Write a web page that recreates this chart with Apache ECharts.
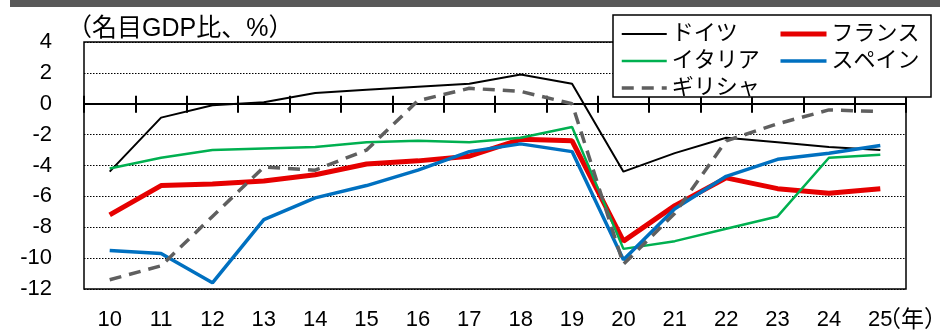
<!DOCTYPE html>
<html>
<head>
<meta charset="utf-8">
<script src="https://cdn.jsdelivr.net/npm/echarts@6/dist/echarts.min.js"></script>
<style>
  html, body { margin: 0; padding: 0; background: #fff; }
  #chart { width: 944px; height: 334px; }
</style>
</head>
<body>
<div id="chart"></div>
<script>
// Fiscal balance (% of nominal GDP), 2010-2025
const years = ['10','11','12','13','14','15','16','17','18','19','20','21','22','23','24','25'];
const germany = [-4.4, -0.9, -0.1, 0.1, 0.7, 0.9, 1.1, 1.3, 1.9, 1.3, -4.4, -3.2, -2.2, -2.5, -2.8, -3.0];
const france  = [-7.2, -5.3, -5.2, -5.0, -4.6, -3.9, -3.7, -3.4, -2.3, -2.4, -8.9, -6.6, -4.8, -5.5, -5.8, -5.5];
const italy   = [-4.2, -3.5, -3.0, -2.9, -2.8, -2.5, -2.4, -2.5, -2.2, -1.5, -9.4, -8.9, -8.1, -7.3, -3.5, -3.3];
const spain   = [-9.5, -9.7, -11.6, -7.5, -6.1, -5.3, -4.3, -3.1, -2.6, -3.1, -10.1, -6.8, -4.7, -3.6, -3.2, -2.7];
const greece  = [-11.4, -10.5, -7.3, -4.1, -4.3, -3.0, 0.2, 1.0, 0.8, 0.0, -10.4, -7.1, -2.4, -1.3, -0.4, -0.5];

const FONT = '"Liberation Sans", "Noto Sans CJK JP", sans-serif';

const seriesDefs = [
  { name: 'ドイツ',   data: germany, color: '#000000', width: 2 },
  { name: 'フランス', data: france,  color: '#e60000', width: 5 },
  { name: 'イタリア', data: italy,   color: '#00b050', width: 2.5 },
  { name: 'スペイン', data: spain,   color: '#0070c0', width: 3.5 },
  { name: 'ギリシャ', data: greece,  color: '#5f5f5f', width: 3.5, type: [12, 8] }
];

// legend entries show only the line sample, no marker
const legendItem = (d) => ({
  name: d.name,
  lineStyle: { color: d.color, width: d.width, type: d.type || 'solid' },
  itemStyle: { color: 'rgba(0,0,0,0)', borderColor: 'rgba(0,0,0,0)', borderWidth: 0 }
});

const chart = echarts.init(document.getElementById('chart'), null, { renderer: 'canvas' });

const catAxisBase = {
  type: 'category',
  data: years,
  gridIndex: 0,
  boundaryGap: true,
  splitLine: { show: false }
};

const valAxisBase = {
  type: 'value',
  gridIndex: 0,
  min: -12, max: 4, interval: 2,
  axisLine: { show: false },
  axisTick: { show: false }
};

chart.setOption({
  animation: false,
  backgroundColor: '#ffffff',
  grid: {
    left: 84, right: 38, top: 42, bottom: 45,
    show: true, borderColor: '#000', borderWidth: 1.5, backgroundColor: 'transparent'
  },
  xAxis: [
    // category labels along the bottom edge
    Object.assign({}, catAxisBase, {
      position: 'bottom',
      axisLine: { show: false, onZero: false },
      axisTick: { show: false },
      axisLabel: { show: true, color: '#000', fontSize: 22, fontFamily: FONT, margin: 20 }
    }),
    // zero line, ticks pointing up
    Object.assign({}, catAxisBase, {
      position: 'bottom',
      axisLine: { show: true, onZero: true, onZeroAxisIndex: 0, lineStyle: { color: '#000', width: 2 } },
      axisTick: { show: true, inside: true, length: 8, lineStyle: { color: '#000', width: 2 } },
      axisLabel: { show: false }
    }),
    // zero line, ticks pointing down
    Object.assign({}, catAxisBase, {
      position: 'top',
      axisLine: { show: true, onZero: true, onZeroAxisIndex: 1, lineStyle: { color: '#000', width: 2 } },
      axisTick: { show: true, inside: true, length: 9, lineStyle: { color: '#000', width: 2 } },
      axisLabel: { show: false }
    })
  ],
  yAxis: [
    Object.assign({}, valAxisBase, {
      position: 'left',
      axisLabel: { color: '#000', fontSize: 22, fontFamily: FONT, margin: 32 },
      splitLine: { show: true, lineStyle: { color: '#000', width: 1, type: [1.5, 1.5] } }
    }),
    Object.assign({}, valAxisBase, {
      position: 'right',
      axisLabel: { show: false },
      splitLine: { show: false }
    })
  ],
  legend: [
    {
      orient: 'vertical', left: 620, top: 22, padding: 0, z: 20,
      itemWidth: 45, itemHeight: 14, itemGap: 3,
      textStyle: { color: '#000', fontSize: 22, fontFamily: FONT, lineHeight: 24 },
      data: [seriesDefs[0], seriesDefs[2], seriesDefs[4]].map(legendItem)
    },
    {
      orient: 'vertical', left: 778, top: 22, padding: 0, z: 20,
      itemWidth: 46, itemHeight: 14, itemGap: 3,
      textStyle: { color: '#000', fontSize: 22, fontFamily: FONT, lineHeight: 24 },
      data: [seriesDefs[1], seriesDefs[3]].map(legendItem)
    }
  ],
  graphic: [
    { type: 'rect', z: 0, silent: true, shape: { x: 10, y: 0, width: 930, height: 7 }, style: { fill: '#595959' } },
    { type: 'rect', z: 10, silent: true, shape: { x: 613, y: 15, width: 318, height: 82 },
      style: { fill: '#ffffff', stroke: '#000', lineWidth: 1.5 } },
    { type: 'text', z: 10, silent: true, x: 67, y: 29,
      style: { text: '（名目GDP比、%）', fill: '#000', font: '25px ' + FONT, textVerticalAlign: 'middle' } },
    { type: 'text', z: 10, silent: true, x: 878, y: 321,
      style: { text: '（年）', fill: '#000', font: '23px ' + FONT, textVerticalAlign: 'middle' } }
  ],
  series: seriesDefs.map((d, i) => ({
    name: d.name,
    type: 'line',
    xAxisIndex: i === 0 ? 1 : (i === 1 ? 2 : 0),
    yAxisIndex: i === 1 ? 1 : 0,
    data: d.data,
    symbol: 'none',
    smooth: false,
    z: 3,
    color: d.color,
    lineStyle: { color: d.color, width: d.width, type: d.type || 'solid' }
  }))
});
</script>
</body>
</html>
